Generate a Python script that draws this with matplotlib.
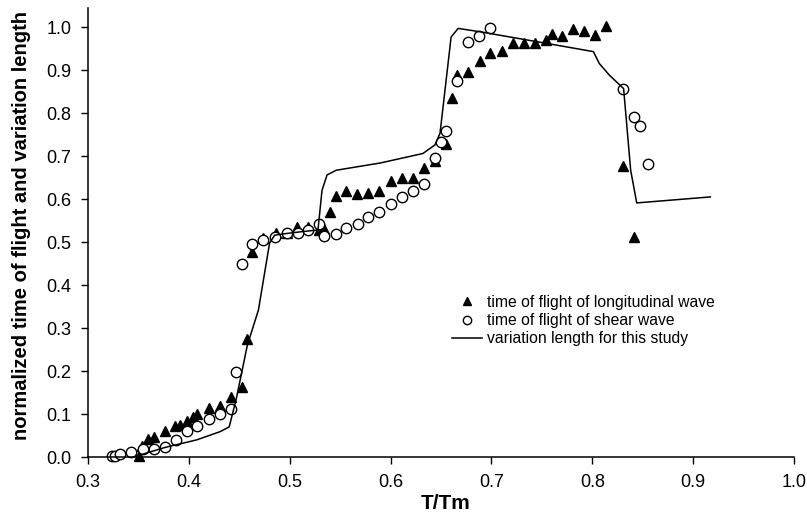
import numpy as np
import matplotlib.pyplot as plt

plt.rcParams['font.family'] = ['Liberation Sans', 'DejaVu Sans']

# longitudinal wave time of flight (triangles)
long_x = [0.351, 0.354, 0.360, 0.365, 0.376, 0.386, 0.391, 0.398, 0.404, 0.408,
          0.420, 0.431, 0.442, 0.453, 0.458, 0.463, 0.474, 0.486, 0.497, 0.507,
          0.518, 0.529, 0.534, 0.540, 0.546, 0.556, 0.567, 0.578, 0.589, 0.600,
          0.611, 0.622, 0.633, 0.644, 0.655, 0.661, 0.666, 0.677, 0.689, 0.699,
          0.710, 0.721, 0.732, 0.743, 0.754, 0.760, 0.770, 0.781, 0.792, 0.803,
          0.814, 0.830, 0.841]
long_y = [0.002, 0.026, 0.043, 0.047, 0.060, 0.072, 0.074, 0.084, 0.092, 0.100,
          0.113, 0.119, 0.140, 0.164, 0.275, 0.477, 0.509, 0.522, 0.522, 0.536,
          0.534, 0.528, 0.530, 0.571, 0.607, 0.619, 0.612, 0.615, 0.619, 0.643,
          0.650, 0.648, 0.672, 0.689, 0.729, 0.834, 0.888, 0.896, 0.921, 0.939,
          0.945, 0.962, 0.964, 0.964, 0.970, 0.983, 0.979, 0.995, 0.991, 0.981,
          1.002, 0.676, 0.511]

# shear wave time of flight (open circles)
shear_x = [0.324, 0.327, 0.332, 0.343, 0.355, 0.365, 0.376, 0.387, 0.398, 0.408,
           0.420, 0.431, 0.442, 0.447, 0.453, 0.463, 0.474, 0.485, 0.497, 0.508,
           0.518, 0.529, 0.534, 0.546, 0.556, 0.568, 0.578, 0.589, 0.600, 0.611,
           0.622, 0.633, 0.644, 0.650, 0.655, 0.666, 0.677, 0.688, 0.699, 0.830,
           0.841, 0.847, 0.855]
shear_y = [0.002, 0.002, 0.007, 0.012, 0.018, 0.018, 0.024, 0.040, 0.061, 0.073,
           0.088, 0.100, 0.112, 0.198, 0.450, 0.495, 0.505, 0.511, 0.520, 0.522,
           0.528, 0.542, 0.515, 0.519, 0.532, 0.543, 0.559, 0.569, 0.588, 0.604,
           0.619, 0.636, 0.695, 0.732, 0.759, 0.874, 0.966, 0.979, 0.998, 0.857,
           0.790, 0.771, 0.681]

# variation length for this study (line)
len_x = [0.345, 0.376, 0.408, 0.431, 0.440, 0.447, 0.458, 0.469, 0.480, 0.485,
         0.497, 0.515, 0.528, 0.532, 0.537, 0.546, 0.590, 0.632, 0.644, 0.649,
         0.660, 0.667, 0.689, 0.755, 0.801, 0.807, 0.817, 0.831, 0.838, 0.844,
         0.917]
len_y = [0.000, 0.022, 0.040, 0.059, 0.070, 0.135, 0.260, 0.342, 0.497, 0.516,
         0.520, 0.525, 0.528, 0.620, 0.656, 0.667, 0.684, 0.706, 0.726, 0.753,
         0.977, 0.997, 0.989, 0.962, 0.943, 0.915, 0.888, 0.857, 0.667, 0.591,
         0.605]

fig = plt.figure(figsize=(8.07, 5.15), dpi=100)
ax = fig.add_axes([0.109, 0.1126, 0.875, 0.8715])

ax.plot(long_x, long_y, linestyle='none', marker='^', color='black',
        markersize=7, clip_on=False, label='time of flight of longitudinal wave')
ax.plot(shear_x, shear_y, linestyle='none', marker='o', markerfacecolor='white',
        markeredgecolor='black', markeredgewidth=1.0, markersize=7.5,
        clip_on=False, label='time of flight of shear wave')
ax.plot(len_x, len_y, color='black', linewidth=1.1,
        label='variation length for this study')

ax.set_xlim(0.3, 1.0)
ax.set_ylim(0.0, 1.044)
ax.set_xticks(np.arange(0.3, 1.01, 0.1))
ax.set_yticks(np.arange(0.0, 1.01, 0.1))
ax.xaxis.set_major_formatter(plt.FormatStrFormatter('%.1f'))
ax.yaxis.set_major_formatter(plt.FormatStrFormatter('%.1f'))
ax.tick_params(direction='out', length=5, width=1, labelsize=13, pad=7,
               colors='black')

ax.spines['top'].set_visible(False)
ax.spines['right'].set_visible(False)
ax.spines['left'].set_linewidth(1.1)
ax.spines['bottom'].set_linewidth(1.1)

ax.set_xlabel('T/Tm', fontsize=15, fontweight='bold')
ax.xaxis.set_label_coords(0.506, -0.082)
ax.set_ylabel('normalized time of flight and variation length', fontsize=14.5,
              fontweight='bold')
ax.yaxis.set_label_coords(-0.080, 0.515)

leg = ax.legend(loc='upper left', bbox_to_anchor=(0.5156, 0.361), frameon=False,
                fontsize=11.3, handlelength=1.9, handletextpad=0.3,
                labelspacing=0.2, borderaxespad=0, borderpad=0,
                markerscale=0.8)

fig.savefig('out.png', dpi=100)
